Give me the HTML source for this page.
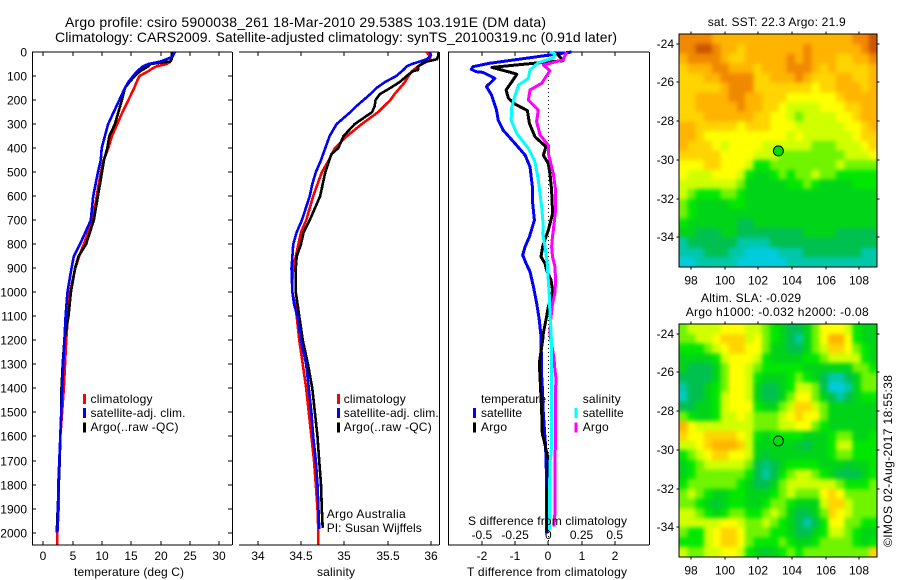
<!DOCTYPE html>
<html>
<head>
<meta charset="utf-8">
<title>Argo profile</title>
<style>
html,body{margin:0;padding:0;background:#fff;width:900px;height:580px;overflow:hidden}
svg{display:block}
text{font-family:"Liberation Sans",sans-serif;font-size:12px;fill:#000}
.t{font-size:14px}
</style>
</head>
<body>
<svg id="fig" xmlns="http://www.w3.org/2000/svg" width="900" height="580" viewBox="0 0 900 580">
<defs>
<filter id="soften" x="-5%" y="-5%" width="110%" height="110%" color-interpolation-filters="sRGB">
<feGaussianBlur stdDeviation="2"/>
<feComponentTransfer><feFuncA type="linear" slope="20"/></feComponentTransfer>
</filter>
</defs>
<rect x="0" y="0" width="900" height="580" fill="#fff"/>
<g id="curves" shape-rendering="crispEdges"></g>
<g id="maps"></g>
<g>
<text class="t" x="65" y="27" textLength="481">Argo profile: csiro 5900038_261 18-Mar-2010 29.538S 103.191E (DM data)</text>
<text class="t" x="55" y="42" textLength="562">Climatology: CARS2009. Satellite-adjusted climatology: synTS_20100319.nc (0.91d later)</text>
<text x="74" y="576" textLength="110">temperature (deg C)</text>
<text x="317" y="576" textLength="38">salinity</text>
<text x="467" y="576" textLength="160">T difference from climatology</text>
<text x="468" y="525" textLength="159">S difference from climatology</text>
<text x="90.5" y="403" textLength="62">climatology</text>
<text x="90.5" y="417" textLength="95">satellite-adj. clim.</text>
<text x="90.5" y="431" textLength="88">Argo(..raw -QC)</text>
<text x="343.7" y="403" textLength="62">climatology</text>
<text x="343.7" y="417" textLength="95">satellite-adj. clim.</text>
<text x="343.7" y="431" textLength="88">Argo(..raw -QC)</text>
<text x="326.7" y="518" textLength="79">Argo Australia</text>
<text x="326.7" y="532" textLength="95">PI: Susan Wijffels</text>
<text x="481" y="403" textLength="65">temperature</text>
<text x="481" y="417" textLength="41">satellite</text>
<text x="481" y="431" textLength="26">Argo</text>
<text x="582.7" y="403" textLength="38">salinity</text>
<text x="582.7" y="417" textLength="41">satellite</text>
<text x="582.7" y="431" textLength="26">Argo</text>
<text x="707.7" y="26" textLength="138">sat. SST: 22.3 Argo: 21.9</text>
<text x="701" y="302" textLength="100">Altim. SLA: -0.029</text>
<text x="685.7" y="316" textLength="183">Argo h1000: -0.032 h2000: -0.08</text>
<text transform="translate(892 547) rotate(-90)" x="0" y="0" textLength="172">©IMOS 02-Aug-2017 18:55:38</text>
</g>
</svg>
<script>
// ---------- axis tick data ----------
var depthTicks = [0,100,200,300,400,500,600,700,800,900,1000,1100,1200,1300,1400,1500,1600,1700,1800,1900,2000];
var tempTicks = [0,5,10,15,20,25,30];
var salTicks = [34,34.5,35,35.5,36];
var tDiffTicks = [-2,-1,0,1,2];
var sDiffTicks = [-0.5,-0.25,0,0.25,0.5];
var sDiffTickLabels = ['-0.5','-0.25','0','0.25','0.5'];
var lonTicks = [98,100,102,104,106,108];
var latTicks = [-24,-26,-28,-30,-32,-34];

// ---------- temperature profiles ----------
var tempDepth = [0,20,30,40,50,60,70,80,100,125,150,200,250,300,350,400,450,500,600,700,800,850,900,1000,1100,1200,1300,1400,1500,1600,1700,1800,1900,2000];
var tempClimDepth = [0,20,30,40,50,60,70,80,100,125,150,200,250,300,350,400,450,500,600,700,800,850,900,1000,1100,1200,1300,1400,1500,1600,1700,1800,1900,2000,2050];
var tempClim = [21.9,21.9,21.9,21.7,21,19.3,18.5,17.9,16.4,15.9,15.5,14.5,13.5,12.6,11.7,11.1,10.3,9.8,9.1,8.4,6.9,6.1,5.45,4.55,4.2,3.9,3.7,3.5,3.2,2.9,2.75,2.65,2.6,2.4,2.4];
var tempArgo = [21.9,21.9,21.85,21.6,18.2,17.9,17.2,16.5,15.6,14.7,13.9,13.4,12.8,12.2,11.25,10.9,10.35,10,9.3,8.6,7.3,6,5.4,4.7,4.3,3.6,3.3,3.1,3.05,2.9,2.8,2.65,2.45,2.3];
var tempSat = [22.4,22,21,19.9,17.9,17,16.5,16,15.3,14.5,13.9,12.95,12,11.05,10.5,9.95,9.8,9.3,8.5,8.1,6.25,5.2,4.8,4.1,3.8,3.6,3.4,3.2,3.07,2.9,2.73,2.56,2.5,2.4];

// ---------- salinity profiles ----------
var salClimDepth = [0,20,30,40,60,80,100,125,150,175,200,250,300,350,400,450,500,550,600,700,750,800,850,900,950,1000,1050,1100,1200,1300,1400,1500,1600,1700,1800,1900,2000,2050];
var salClim = [35.95,35.99,35.99,35.95,35.85,35.78,35.74,35.7,35.64,35.58,35.53,35.39,35.2,35.03,34.89,34.82,34.74,34.69,34.64,34.56,34.5,34.47,34.44,34.41,34.4,34.4,34.43,34.45,34.48,34.52,34.56,34.59,34.62,34.65,34.67,34.69,34.7,34.7];
var salArgoDepth = [0,20,30,40,50,60,75,80,100,125,150,175,200,225,250,275,300,350,400,425,500,600,700,750,800,850,900,1000,1050,1100,1200,1300,1400,1500,1600,1700,1800,1900,1980];
var salArgo = [36.09,36.08,36.07,35.95,35.89,35.85,35.85,35.79,35.72,35.64,35.53,35.41,35.36,35.35,35.32,35.22,35.12,34.99,34.93,34.85,34.78,34.72,34.6,34.53,34.5,34.45,34.44,34.44,34.46,34.48,34.52,34.58,34.63,34.66,34.69,34.71,34.73,34.74,34.75];
var salSatDepth = [0,15,30,40,50,60,75,100,125,150,175,200,225,250,275,300,325,350,400,450,500,550,600,700,750,800,850,900,1000,1050,1100,1200,1300,1400,1500,1600,1700,1800,1900,1985];
var salSat = [35.99,36,35.95,35.87,35.78,35.72,35.68,35.6,35.47,35.37,35.3,35.22,35.14,35.07,34.99,34.91,34.87,34.83,34.78,34.73,34.67,34.63,34.6,34.51,34.45,34.41,34.4,34.39,34.4,34.42,34.46,34.5,34.56,34.59,34.62,34.64,34.67,34.69,34.7,34.71];

// ---------- difference profiles ----------
var tDiffSatDepth = [0,47,61,72,82,85,110,144,179,242,283,325,381,429,478,561,631,700,769,810,845,880,914,976,1046,1115,1184,1351,1393,1504,1642,1781,2003];
var tDiffSat = [0.7,-1.77,-2.27,-2.32,-2.17,-1.96,-1.61,-1.86,-1.71,-1.56,-1.51,-1.36,-1,-0.7,-0.55,-0.48,-0.47,-0.42,-0.57,-0.7,-0.77,-0.67,-0.55,-0.45,-0.35,-0.27,-0.22,-0.2,-0.18,-0.15,-0.08,-0.05,-0.05];
var tDiffArgoDepth = [5,36,47,64,86,93,124,158,193,217,244,297,353,394,429,464,506,575,672,742,768,810,852,880,907,949,990,1018,1060,1115,1170,1198,1296,1351,1500,1590,1615,1698,1900,1995];
var tDiffArgo = [0.25,0.45,-0.45,-1.7,-1.1,-0.95,-1.1,-1.27,-1.2,-1,-0.63,-0.57,-0.4,-0.07,-0.15,0,0.05,0.1,0.13,0,-0.07,-0.17,-0.22,-0.1,-0.05,0.08,0.13,0.1,0,-0.07,-0.15,-0.17,-0.27,-0.25,-0.2,-0.18,-0.13,0,-0.03,-0.03];
var sDiffSatDepth = [0,8,26,44,75,110,138,179,228,283,339,401,457,533,644,728,755,810,880,949,1018,1087,1157,1226,1351,1642,1712,1920,1989];
var sDiffSat = [0.012,0.05,0.038,-0.075,-0.138,-0.15,-0.225,-0.25,-0.275,-0.28,-0.238,-0.15,-0.1,-0.075,-0.05,-0.038,-0.042,-0.025,-0.008,0,0.008,0.012,0.02,0.025,0.025,0.025,0.012,0.008,0.008];
var sDiffArgoDepth = [0,33,54,78,130,158,200,242,290,346,388,422,506,575,658,742,768,810,852,893,949,1004,1046,1115,1170,1219,1268,1323,1358,1406,1628,1684,1920,1975];
var sDiffArgo = [0.138,0.112,-0.038,0.012,-0.05,-0.138,-0.15,-0.075,-0.088,-0.062,0,0,0.038,0.055,0.055,0.038,0.032,0.025,0.032,0.05,0.055,0.05,0.032,0.018,0.012,0.025,0.042,0.05,0.058,0.055,0.055,0.05,0.05,0.042];

// ---------- float position ----------
var argoLon = [103.191];
var argoLat = [-29.538];

// ---------- map cell values (colour index, low = cyan, high = dark orange) ----------
var sstGrid = [
[10,10,10,10,9,9,9,9,9,9,9,9,9,9,9,9,9,9,9,9,9,10,10,11],
[10,10,11,11,10,9,9,8,9,9,9,9,9,9,9,10,9,9,9,9,9,9,10,11],
[9,10,10,10,10,9,8,8,9,9,9,9,9,10,9,10,9,9,9,8,8,9,9,10],
[8,9,9,9,10,10,9,9,9,8,9,9,9,10,10,10,9,8,9,8,8,8,8,9],
[8,8,8,9,9,10,10,10,10,8,8,9,9,9,10,9,8,8,8,9,9,8,8,9],
[8,8,8,8,8,9,10,10,10,8,8,8,8,8,8,8,7,8,8,9,9,9,8,9],
[8,8,9,9,9,9,10,10,9,9,8,8,8,7,7,7,7,7,7,8,9,9,9,9],
[8,8,9,9,9,9,9,10,9,9,8,8,7,6,6,6,6,7,7,7,8,8,9,9],
[8,8,8,9,9,9,9,9,9,8,8,7,7,6,5,6,6,6,6,7,7,8,9,9],
[9,9,8,8,8,8,8,7,8,8,8,7,7,7,6,6,6,6,6,6,7,7,8,9],
[9,9,8,7,7,7,7,7,7,7,7,7,7,6,7,6,6,6,6,6,6,7,8,8],
[9,8,8,8,7,6,7,7,7,7,6,6,6,6,6,6,5,5,5,6,6,6,7,8],
[8,8,8,8,8,7,7,7,7,6,6,6,5,5,5,5,5,5,5,5,6,6,6,7],
[7,7,7,8,8,7,7,7,6,4,4,5,5,5,5,5,5,5,5,6,5,5,5,5],
[7,6,6,6,7,7,7,6,4,3,3,4,5,4,5,5,6,5,5,4,4,4,4,4],
[6,6,6,6,6,6,6,5,3,3,3,3,3,4,4,5,4,3,3,3,3,4,4,4],
[6,5,4,4,4,5,5,4,3,3,3,3,3,3,3,3,3,3,3,3,3,3,3,3],
[5,4,3,3,3,3,4,4,3,3,3,3,3,3,3,3,3,3,3,3,3,3,3,3],
[5,4,3,3,3,3,3,3,3,3,3,3,3,3,3,3,3,3,3,3,3,3,3,3],
[4,3,3,3,3,3,3,2,2,3,3,3,3,3,3,3,3,3,3,3,3,3,3,3],
[3,3,2,2,2,3,3,2,2,2,2,2,2,2,2,3,3,3,3,2,2,2,2,2],
[1,2,2,2,2,2,2,1,1,1,1,2,2,2,2,2,2,2,2,2,2,2,2,2],
[1,1,1,2,2,2,1,1,0,0,0,0,1,1,1,2,2,2,2,2,2,2,1,1],
[0,0,1,1,1,1,1,0,0,0,0,0,0,1,1,1,1,1,1,1,1,1,1,1]
];
var slaGrid = [
[5,6,6,6,6,7,7,7,6,6,5,4,3,2,2,3,5,7,7,7,6,4,3,3],
[5,5,6,6,7,8,8,8,6,7,5,4,3,2,1,3,5,7,9,9,7,4,3,3],
[4,4,4,5,6,7,8,8,7,7,5,3,3,2,2,3,5,6,8,8,7,5,4,3],
[3,3,3,3,4,6,7,7,7,6,4,3,3,3,3,4,4,5,6,6,6,6,4,3],
[3,2,2,2,3,5,7,7,6,5,4,4,4,4,4,3,3,3,3,3,3,5,5,4],
[2,2,2,2,3,5,7,7,6,4,3,3,3,4,5,4,3,2,1,1,2,3,5,5],
[1,2,2,3,4,5,7,7,6,3,2,2,3,4,6,6,5,2,0,0,1,3,5,5],
[0.5,2,2,3,4,6,7,7,6,3,2,2,3,5,7,7,5,3,2,1,2,3,4,4],
[2,2,3,3,4,6,7,7,7,4,3,3,5,6,8,8,6,5,3,3,3,3,3,3],
[5,4,3,3,4,6,6,7,6,5,5,5,6,7,8,7,7,5,3,3,3,3,3,3],
[9,7,6,6,6,6,6,6,6,5,5,5,6,6,7,7,5,4,3,3,3,3,3,3],
[8,7,7,8,8,8,8,7,6,4,3,4,4,4,4,3,3,3,4,5,5,3,3,4],
[6,6,7,8,9,9,9,8,6,3,3,3,3,3,2.5,2,3,3,4,6,6,4,4,4],
[4,5,6,7,8,8,7,7,6,3,2.5,3,3,3,3,3,3,3,4,5,5,4,4,4],
[3,4,5,6,6,6,6,6,5,2,1.5,2,3,4,4,4,4,3,3,3,2.5,3,3,4],
[3,4,5,5,5,5,5,5,4,2,1,2,4,5,6,6,5,4,3,2,2,2,3,4],
[4,5,5,5,5,5,5,4,3,2,2,3,5,6,6,6,6,6,6,5,4,4,4,5],
[5,6,5,4,3,3,4,4,3,3,3,4,5,6,5,5,5,7,8,7,5,5,5,5],
[5,5,4,3,2.5,3,4,4,3,3,4,5,5,4,3,3,3,6,8,8,6,5,5,5],
[6,6,5,4,3,4,5,5,4,4,5,6,5,3,2,2,3,5,8,7,6,5,5,5],
[6,6,6,6,6,7,7,6,5,5,6,5,4,3,2,1,2,4,7,7,5,5,4,4],
[5,4,4,6,7,8,8,7,5,5,5,4,4,3,2,2,3,4,6,6,5,4,3,3],
[4,4,4,6,7,8,8,7,5,4,4,4,5,4,3,3,4,5,5,5,5,4,3,4],
[6,5,5,6,6,7,7,6,4,3,2.5,3,4,5,4,5,5,5,5,5,5,5,5,8]
];

// ---------- helpers ----------
var NS = 'http://www.w3.org/2000/svg';
var curvesG = document.getElementById('curves');
var mapsG = document.getElementById('maps');
function mk(parent, tag, attrs, name, txt) {
  var el = document.createElementNS(NS, tag);
  for (var k in attrs) el.setAttribute(k, attrs[k]);
  
  
  if (txt !== undefined) el.textContent = txt;
  parent.appendChild(el);
  return el;
}
function seg(parent, x1, y1, x2, y2, name, w) {
  return mk(parent, 'line', {x1:x1, y1:y1, x2:x2, y2:y2, stroke:'#000', 'stroke-width':w || 1, 'shape-rendering':'crispEdges'}, name);
}

// ---------- axis functions ----------
function yDepth(d) { return 52 + 0.2403 * d; }
function xTemp(t) { return 43.3 + 5.867 * t; }
function xSal(s) { return 257.7 + 86.65 * (s - 34); }
function xTDiff(t) { return 548.3 + 33.2 * t; }
function xSDiff(s) { return 548.3 + 132.8 * s; }
function xLon(l) { return 691 + 16.83 * (l - 98); }
function ySst(l) { return 43.7 - 19.36 * (l + 24); }
function ySla(l) { return 333.7 - 19.36 * (l + 24); }

function series(depths, vals, xFn, color, name, w) {
  var pts = [];
  for (var i = 0; i < vals.length; i++) {
    pts.push(xFn(vals[i]).toFixed(1) + ',' + yDepth(depths[i]).toFixed(1));
  }
  mk(curvesG, 'polyline', {points: pts.join(' '), fill:'none', stroke:color, 'stroke-width':w, 'stroke-linejoin':'round'}, name);
}

function legendBar(x, y, color, name) {
  mk(curvesG, 'rect', {x:x, y:y, width:3, height:10, fill:color}, name);
}

// ---------- panel frames ----------
var L1 = 32, R1 = 232, L2 = 239, R2 = 439, L3 = 448, R3 = 649, TOP = 52, BOT = 545;
seg(curvesG, L1, TOP, R1, TOP, 'temp-panel-top');
seg(curvesG, L1, BOT, R1, BOT, 'temp-panel-bottom');
seg(curvesG, L1+.5, TOP, L1+.5, BOT, 'temp-panel-left');
seg(curvesG, R1+.5, TOP, R1+.5, BOT, 'temp-panel-right');
seg(curvesG, L2, TOP, R2, TOP, 'sal-panel-top');
seg(curvesG, L2, BOT, R2, BOT, 'sal-panel-bottom');
seg(curvesG, R2+.5, TOP, R2+.5, BOT, 'sal-panel-right');
seg(curvesG, L3, TOP, R3, TOP, 'diff-panel-top');
seg(curvesG, L3, BOT, R3, BOT, 'diff-panel-bottom');
seg(curvesG, L3+.5, TOP, L3+.5, BOT, 'diff-panel-left');
seg(curvesG, R3+.5, TOP, R3+.5, BOT, 'diff-panel-right');

depthTicks.forEach(function (d) {
  var y = Math.round(yDepth(d));
  seg(curvesG, L1, y, L1 + 4, y, 'depth-tick-left');
  seg(curvesG, R1 - 4, y, R1, y, 'depth-tick-right');
  mk(curvesG, 'text', {x:27, y:y + 4.5, 'text-anchor':'end'}, 'depth-tick-label', String(d));
});
tempTicks.forEach(function (t) {
  var x = Math.round(xTemp(t));
  seg(curvesG, x, TOP, x, TOP + 4, 'temp-tick-top');
  seg(curvesG, x, BOT - 4, x, BOT, 'temp-tick-bottom');
  mk(curvesG, 'text', {x:x, y:560, 'text-anchor':'middle'}, 'temp-tick-label', String(t));
});
salTicks.forEach(function (s) {
  var x = Math.round(xSal(s));
  seg(curvesG, x, TOP, x, TOP + 4, 'sal-tick-top');
  seg(curvesG, x, BOT - 4, x, BOT, 'sal-tick-bottom');
  mk(curvesG, 'text', {x:x, y:560, 'text-anchor':'middle'}, 'sal-tick-label', String(s));
});
tDiffTicks.forEach(function (t) {
  var x = Math.round(xTDiff(t));
  seg(curvesG, x, TOP, x, TOP + 4, 'tdiff-tick-top');
  seg(curvesG, x, BOT - 4, x, BOT, 'tdiff-tick-bottom');
  mk(curvesG, 'text', {x:x, y:560, 'text-anchor':'middle'}, 'tdiff-tick-label', String(t));
});
sDiffTicks.forEach(function (s, i) {
  mk(curvesG, 'text', {x:xSDiff(s), y:539, 'text-anchor':'middle'}, 'sdiff-tick-label', sDiffTickLabels[i]);
});
mk(curvesG, 'line', {x1:xTDiff(0), y1:TOP, x2:xTDiff(0), y2:BOT, stroke:'#000', 'stroke-width':1, 'stroke-dasharray':'1 3'}, 'zero-difference-line');

// ---------- profile series ----------
series(tempClimDepth, tempClim, xTemp, '#ff0000', 'temp-climatology-line', 2.6);
series(tempDepth, tempArgo, xTemp, '#000000', 'temp-argo-line', 2.6);
series(tempDepth, tempSat, xTemp, '#0000ff', 'temp-satellite-line', 2.6);
series(salClimDepth, salClim, xSal, '#ff0000', 'sal-climatology-line', 2.6);
series(salArgoDepth, salArgo, xSal, '#000000', 'sal-argo-line', 2.6);
series(salSatDepth, salSat, xSal, '#0000ff', 'sal-satellite-line', 2.6);
series(tDiffSatDepth, tDiffSat, xTDiff, '#0000ff', 'tdiff-satellite-line', 3);
series(tDiffArgoDepth, tDiffArgo, xTDiff, '#000000', 'tdiff-argo-line', 3);
series(sDiffArgoDepth, sDiffArgo, xSDiff, '#ff00ff', 'sdiff-argo-line', 3);
series(sDiffSatDepth, sDiffSat, xSDiff, '#00ffff', 'sdiff-satellite-line', 3);

// ---------- legend swatches ----------
legendBar(83, 394, '#ff0000', 'temp-legend-swatch-climatology');
legendBar(83, 408, '#0000ff', 'temp-legend-swatch-satellite');
legendBar(83, 422.5, '#000000', 'temp-legend-swatch-argo');
legendBar(337, 394, '#ff0000', 'sal-legend-swatch-climatology');
legendBar(337, 408, '#0000ff', 'sal-legend-swatch-satellite');
legendBar(337, 422.5, '#000000', 'sal-legend-swatch-argo');
legendBar(473, 408, '#0000ff', 'diff-legend-swatch-t-satellite');
legendBar(473, 422.5, '#000000', 'diff-legend-swatch-t-argo');
legendBar(574.5, 408, '#00ffff', 'diff-legend-swatch-s-satellite');
legendBar(574.5, 422.5, '#ff00ff', 'diff-legend-swatch-s-argo');

// ---------- maps ----------
var palette = ['#00ccdd','#00c8a8','#00c050','#00d418','#00e800','#70f400','#d0ff00','#ffff00','#ffd400','#ffb400','#f08800','#cc5500'];
function hexToRgb(h) {
  return [parseInt(h.substr(1, 2), 16), parseInt(h.substr(3, 2), 16), parseInt(h.substr(5, 2), 16)];
}
function colorOf(v) {
  var a = Math.max(0, Math.min(palette.length - 1, Math.floor(v)));
  var b = Math.min(palette.length - 1, a + 1);
  var f = v - a;
  var p = hexToRgb(palette[a]);
  var q = hexToRgb(palette[b]);
  return 'rgb(' + [0, 1, 2].map(function (i) { return Math.round(p[i] + (q[i] - p[i]) * f); }).join(',') + ')';
}
function drawMap(grid, yFn, prefix, markerFill) {
  var lonW = 97.3, lonE = 109.07, latN = -23.51, latS = -35.52;
  var rows = grid.length, cols = grid[0].length;
  var xa = Math.round(xLon(lonW)), xb = Math.round(xLon(lonE)), ya = Math.round(yFn(latN)), yb = Math.round(yFn(latS));
  var clip = mk(mapsG, 'clipPath', {id: prefix + '-clip'}, prefix + '-map-clip');
  mk(clip, 'rect', {x:xa, y:ya, width:xb - xa, height:yb - ya}, prefix + '-map-clip-rect');
  var wrap = mk(mapsG, 'g', {'clip-path':'url(#' + prefix + '-clip)'}, prefix + '-map');
  var g = mk(wrap, 'g', {'shape-rendering':'crispEdges', filter:'url(#soften)'}, prefix + '-map-cells');
  for (var r = 0; r < rows; r++) {
    for (var c = 0; c < cols; c++) {
      var x0 = xLon(lonW + (lonE - lonW) * c / cols), x1 = xLon(lonW + (lonE - lonW) * (c + 1) / cols);
      var y0 = yFn(latN + (latS - latN) * r / rows), y1 = yFn(latN + (latS - latN) * (r + 1) / rows);
      mk(g, 'rect', {x:x0.toFixed(1), y:y0.toFixed(1), width:(x1 - x0 + .4).toFixed(1), height:(y1 - y0 + .4).toFixed(1), fill:colorOf(grid[r][c])}, prefix + '-cell');
    }
  }
  mk(mapsG, 'rect', {x:xa, y:ya, width:xb - xa, height:yb - ya, fill:'none', stroke:'#000', 'stroke-width':1, 'shape-rendering':'crispEdges'}, prefix + '-frame');
  lonTicks.forEach(function (l) {
    var x = Math.round(xLon(l));
    seg(mapsG, x, ya - 2.5, x, ya, prefix + '-lon-tick-top');
    seg(mapsG, x, yb, x, yb + 2.5, prefix + '-lon-tick-bottom');
    mk(mapsG, 'text', {x:x, y:yb + 17.5, 'text-anchor':'middle'}, prefix + '-lon-label', String(l));
  });
  latTicks.forEach(function (l) {
    var y = Math.round(yFn(l));
    seg(mapsG, xa - 2.5, y, xa, y, prefix + '-lat-tick-left');
    seg(mapsG, xb, y, xb + 2.5, y, prefix + '-lat-tick-right');
    mk(mapsG, 'text', {x:674, y:y + 4, 'text-anchor':'end'}, prefix + '-lat-label', String(l));
  });
  mk(mapsG, 'circle', {cx:xLon(argoLon[0]), cy:yFn(argoLat[0]), r:5, fill:markerFill, stroke:'#000', 'stroke-width':1}, prefix + '-argo-marker');
}
drawMap(sstGrid, ySst, 'sst', '#00e000');
drawMap(slaGrid, ySla, 'sla', 'none');
</script>
</body>
</html>
